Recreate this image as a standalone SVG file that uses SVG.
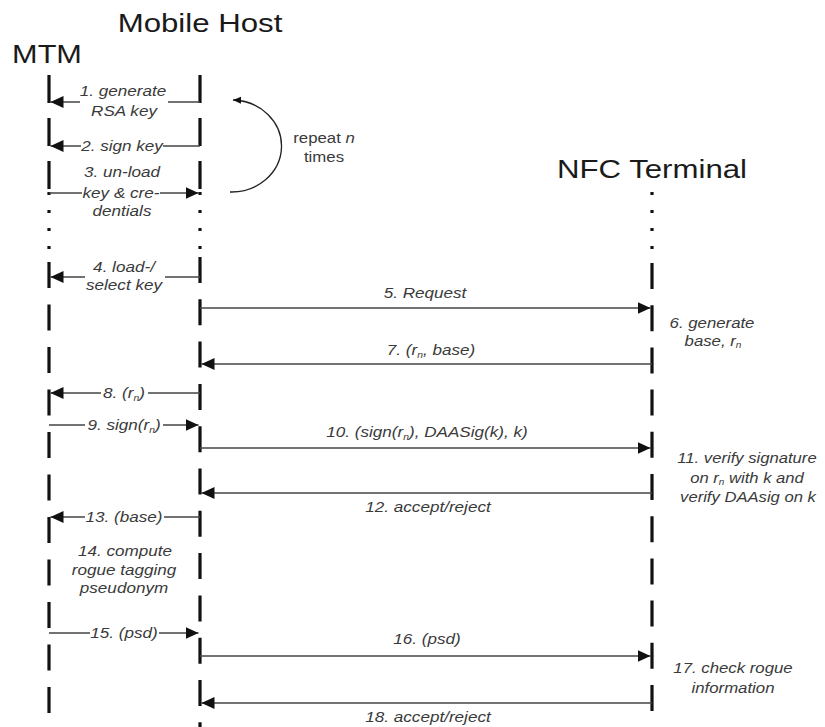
<svg xmlns="http://www.w3.org/2000/svg" width="825" height="727" viewBox="0 0 825 727">
<defs>
<style>
.title{font-family:"Liberation Sans",Arial,sans-serif;font-size:26px;fill:#1a1a1a;text-anchor:middle}
.lbl{font-family:"Liberation Sans",Arial,sans-serif;font-size:15px;font-style:italic;fill:#3a3a3a;text-anchor:middle}
.note{font-family:"Liberation Sans",Arial,sans-serif;font-size:15px;fill:#3a3a3a;text-anchor:middle}
.life{stroke:#111;stroke-width:3.2;fill:none}
.msg{stroke:#444;stroke-width:1.3;fill:none;marker-end:url(#ah)}
.arc{stroke:#222;stroke-width:1.3;fill:none;marker-end:url(#ahs)}
</style>
<marker id="ah" markerUnits="userSpaceOnUse" markerWidth="14" markerHeight="13" refX="13" refY="6" orient="auto">
<path d="M0,0 L13,6 L0,12 z" fill="#111"/>
</marker>
<marker id="ahs" markerUnits="userSpaceOnUse" markerWidth="10" markerHeight="8" refX="8" refY="3.5" orient="auto">
<path d="M0,0 L8,3.5 L0,7 z" fill="#111"/>
</marker>
</defs>
<rect width="825" height="727" fill="#fff"/>

<g id="mtm">
<text class="title" transform="translate(47,63) scale(1.18,1)">MTM</text>
<line class="life" x1="49" y1="75" x2="49" y2="189" stroke-dasharray="28 15"/>
<line class="life" x1="49" y1="192" x2="49" y2="250" stroke-dasharray="3 15"/>
<line class="life" x1="49" y1="262" x2="49" y2="713" stroke-dasharray="26 16.5"/>
</g>

<g id="mobile-host">
<text class="title" transform="translate(200,32) scale(1.2,1)">Mobile Host</text>
<line class="life" x1="200" y1="75" x2="200" y2="189" stroke-dasharray="28 15"/>
<line class="life" x1="200" y1="192" x2="200" y2="250" stroke-dasharray="3 15"/>
<line class="life" x1="200" y1="257" x2="200" y2="727" stroke-dasharray="26 16.3"/>
</g>

<g id="nfc-terminal">
<text class="title" transform="translate(652,178) scale(1.2,1)">NFC Terminal</text>
<line class="life" x1="652" y1="192" x2="652" y2="250" stroke-dasharray="3 15"/>
<line class="life" x1="652" y1="263" x2="652" y2="711" stroke-dasharray="26 16.2"/>
</g>

<g id="repeat">
<path class="arc" d="M230,192 A50,46 0 0 0 233,100"/>
<text class="note" transform="translate(324,143) scale(1.12,1)">repeat <tspan font-style="italic">n</tspan></text>
<text class="note" transform="translate(324,162) scale(1.12,1)">times</text>
</g>

<g id="connectors">
<path class="msg" d="M200,102 L168,102 M80,102 L50.5,102"/>
<path class="msg" d="M200,146 L163,146 M81,146 L50.5,146"/>
<path class="msg" d="M49,193 L82,193 M160,193 L198.5,193"/>
<path class="msg" d="M200,277 L165,277 M85,277 L50.5,277"/>
<path class="msg" d="M200,308 L650.5,308"/>
<path class="msg" d="M652,364 L201.5,364"/>
<path class="msg" d="M200,393 L148,393 M101,393 L50.5,393"/>
<path class="msg" d="M49,425 L85,425 M163,425 L198.5,425"/>
<path class="msg" d="M200,448 L650.5,448"/>
<path class="msg" d="M652,493 L201.5,493"/>
<path class="msg" d="M200,517 L164,517 M85,517 L50.5,517"/>
<path class="msg" d="M49,633 L90,633 M159,633 L198.5,633"/>
<path class="msg" d="M200,656 L650.5,656"/>
<path class="msg" d="M652,703 L201.5,703"/>
</g>

<g id="labels">
<text class="lbl" transform="translate(123,96) scale(1.14,1)">1. generate</text>
<text class="lbl" transform="translate(124,116) scale(1.14,1)">RSA key</text>
<text class="lbl" transform="translate(122,151) scale(1.14,1)">2. sign key</text>
<text class="lbl" transform="translate(122,177) scale(1.14,1)">3. un-load</text>
<text class="lbl" transform="translate(121,198) scale(1.14,1)">key &amp; cre-</text>
<text class="lbl" transform="translate(122,216) scale(1.14,1)">dentials</text>
<text class="lbl" transform="translate(124,272) scale(1.14,1)">4. load-/</text>
<text class="lbl" transform="translate(124,290) scale(1.14,1)">select key</text>
<text class="lbl" transform="translate(425,298) scale(1.14,1)">5. Request</text>
<text class="lbl" transform="translate(712,328) scale(1.12,1)">6. generate</text>
<text class="lbl" transform="translate(713,346) scale(1.12,1)">base, r<tspan font-size="9" dy="2">n</tspan></text>
<text class="lbl" transform="translate(431,355) scale(1.14,1)">7. (r<tspan font-size="9" dy="3">n</tspan><tspan dy="-3">, base)</tspan></text>
<text class="lbl" transform="translate(124,398) scale(1.14,1)">8. (r<tspan font-size="9" dy="3">n</tspan><tspan dy="-3">)</tspan></text>
<text class="lbl" transform="translate(124,430) scale(1.14,1)">9. sign(r<tspan font-size="9" dy="3">n</tspan><tspan dy="-3">)</tspan></text>
<text class="lbl" transform="translate(427,437) scale(1.14,1)">10. (sign(r<tspan font-size="9" dy="3">n</tspan><tspan dy="-3">), DAASig(k), k)</tspan></text>
<text class="lbl" transform="translate(747,463) scale(1.11,1)">11. verify signature</text>
<text class="lbl" transform="translate(747,483) scale(1.11,1)">on r<tspan font-size="9" dy="2">n</tspan><tspan dy="-2"> with k and</tspan></text>
<text class="lbl" transform="translate(748,502) scale(1.11,1)">verify DAAsig on k</text>
<text class="lbl" transform="translate(428,512) scale(1.14,1)">12. accept/reject</text>
<text class="lbl" transform="translate(124,522) scale(1.14,1)">13. (base)</text>
<text class="lbl" transform="translate(125,556) scale(1.14,1)">14. compute</text>
<text class="lbl" transform="translate(124,575) scale(1.14,1)">rogue tagging</text>
<text class="lbl" transform="translate(124,593) scale(1.14,1)">pseudonym</text>
<text class="lbl" transform="translate(124,638) scale(1.14,1)">15. (psd)</text>
<text class="lbl" transform="translate(427,644) scale(1.14,1)">16. (psd)</text>
<text class="lbl" transform="translate(733,673) scale(1.12,1)">17. check rogue</text>
<text class="lbl" transform="translate(733,693) scale(1.12,1)">information</text>
<text class="lbl" transform="translate(428,722) scale(1.14,1)">18. accept/reject</text>
</g>
</svg>
